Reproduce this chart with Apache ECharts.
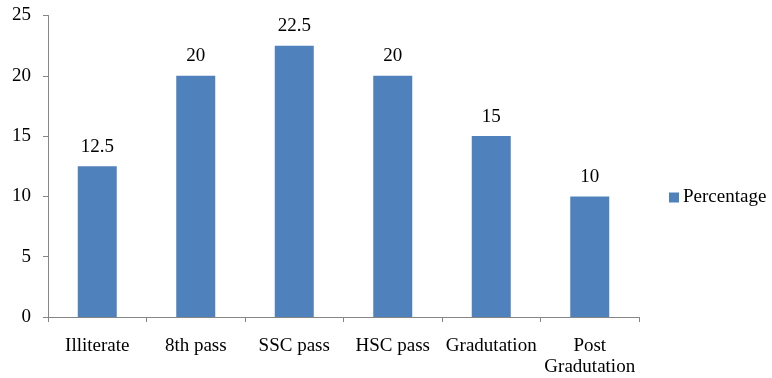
<!DOCTYPE html>
<html>
<head>
<meta charset="utf-8">
<script src="https://cdn.jsdelivr.net/npm/echarts@6/dist/echarts.min.js"></script>
<style>
  html, body { margin: 0; padding: 0; background: #fff; }
  #chart { width: 772px; height: 378px; }
</style>
</head>
<body>
<div id="chart"></div>
<script>
// Education levels and their share in percent
const categories = ['Illiterate', '8th pass', 'SSC pass', 'HSC pass', 'Gradutation', 'Post\nGradutation'];
const percentage = [12.5, 20, 22.5, 20, 15, 10];
const seriesName = 'Percentage';

const FONT = '"Liberation Serif", "DejaVu Serif", serif';
const FS = 19;
const BAR = '#4F81BD';
const AXIS = '#868686';

const chart = echarts.init(document.getElementById('chart'), null, { renderer: 'canvas' });
chart.setOption({
  animation: false,
  backgroundColor: '#ffffff',
  textStyle: { fontFamily: FONT, color: '#000' },
  grid: { left: 48, right: 133, top: 15.5, bottom: 61, containLabel: false },
  legend: {
    data: [seriesName],
    orient: 'vertical',
    left: 669,
    top: 188,
    padding: 0,
    icon: 'rect',
    itemWidth: 10,
    itemHeight: 10,
    textStyle: { fontFamily: FONT, fontSize: FS, color: '#000', padding: [0, 0, 0, -1] }
  },
  xAxis: {
    type: 'category',
    data: categories,
    axisLine: { lineStyle: { color: AXIS, width: 1 } },
    axisTick: { show: true, alignWithLabel: false, length: 5, lineStyle: { color: AXIS } },
    axisLabel: { fontFamily: FONT, fontSize: FS, color: '#000', margin: 19, lineHeight: 21, interval: 0 },
    splitLine: { show: false }
  },
  yAxis: {
    type: 'value',
    min: 0,
    max: 25,
    interval: 5,
    axisLine: { show: true, lineStyle: { color: AXIS, width: 1 } },
    axisTick: { show: true, length: 5, lineStyle: { color: AXIS } },
    axisLabel: { fontFamily: FONT, fontSize: FS, color: '#000', margin: 17 },
    splitLine: { show: false }
  },
  series: [{
    name: seriesName,
    type: 'bar',
    data: percentage,
    barWidth: 39,
    itemStyle: { color: BAR },
    label: {
      show: true,
      position: 'top',
      distance: 10,
      fontFamily: FONT,
      fontSize: FS,
      color: '#000'
    }
  }]
});
</script>
</body>
</html>
